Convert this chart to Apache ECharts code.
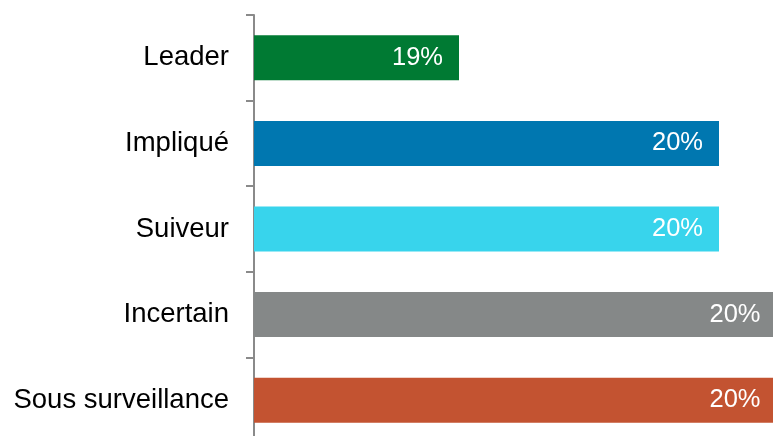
<!DOCTYPE html>
<html><head><meta charset="utf-8">
<script src="https://cdn.jsdelivr.net/npm/echarts@6/dist/echarts.min.js"></script>
<style>html,body{margin:0;padding:0;background:#fff}#c{width:773px;height:436px}</style>
</head><body><div id="c"></div>
<script>
const categories = ["Leader", "Impliqué", "Suiveur", "Incertain", "Sous surveillance"];
const values = [18.82, 19.86, 19.86, 20.09, 20.09];
const colors = ["#007A33", "#0077B0", "#38D4EC", "#858888", "#C35331"];

const chart = echarts.init(document.getElementById('c'), null, {renderer: 'canvas'});
chart.setOption({
  animation: false,
  grid: {left: 254, top: 15, width: 550, height: 428, containLabel: false, outerBoundsMode: 'none'},
  xAxis: {type: 'value', min: 18, max: 20.2, show: false},
  yAxis: {
    type: 'category', data: categories, inverse: true,
    axisLine: {show: true, lineStyle: {color: '#8a8a8a', width: 2}},
    axisTick: {show: true, length: 8, lineStyle: {color: '#8a8a8a', width: 2}},
    axisLabel: {margin: 25, color: '#000', fontFamily: 'Liberation Sans, Arial, sans-serif', fontSize: 27.5}
  },
  series: [{
    type: 'bar',
    barWidth: 45,
    data: values.map((v, i) => ({value: v, itemStyle: {color: colors[i]}})),
    label: {
      show: true, position: 'insideRight', distance: 16,
      color: '#fff', fontFamily: 'Liberation Sans, Arial, sans-serif', fontSize: 25.5,
      formatter: p => Math.round(p.value) + '%'
    }
  }]
});
</script></body></html>
